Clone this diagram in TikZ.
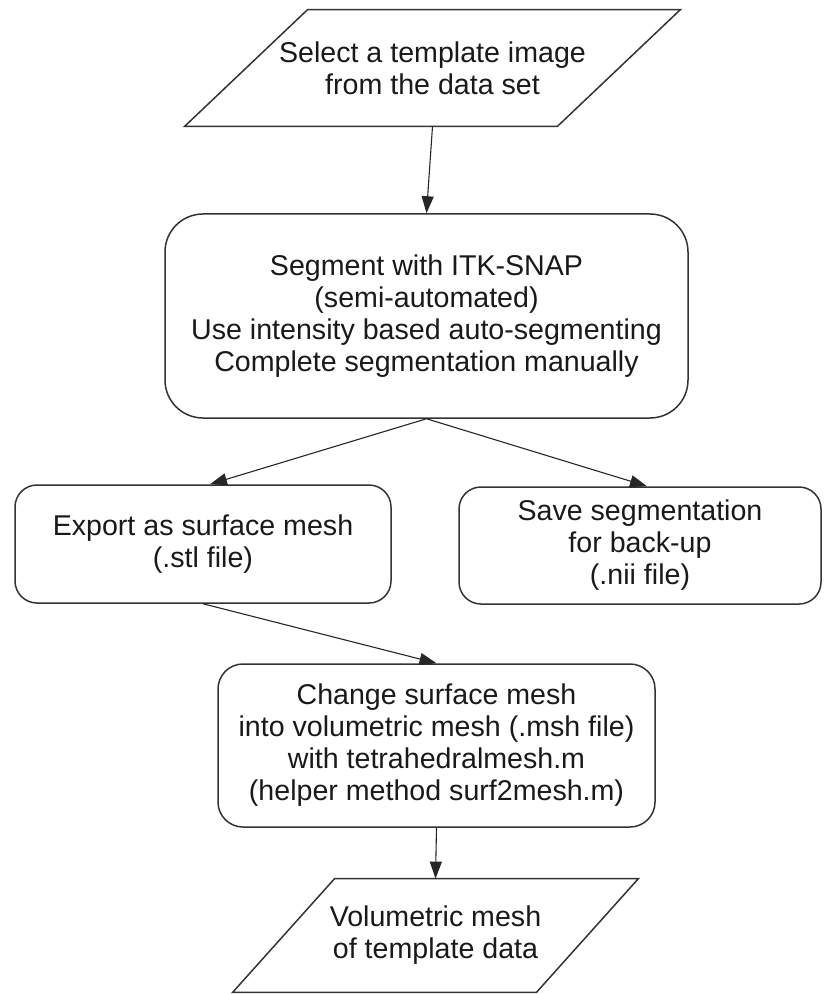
\documentclass[tikz,border=0pt]{standalone}
\usepackage{fontspec}
\setmainfont{Liberation Sans}
\usetikzlibrary{arrows.meta}

\tikzset{
  box/.style={draw=black!80, line width=0.75pt, rounded corners=#1, align=center, inner sep=0pt, text=black!90},
  box/.default=11pt,
  io/.style={align=center, inner sep=0pt, text=black!90},
  outline/.style={draw=black!80, line width=0.75pt},
  flow/.style={draw=black!85, line width=0.55pt, -{Triangle[length=8.5pt,width=6pt]}},
}

\begin{document}
\begin{tikzpicture}[x=0.5pt,y=0.5pt,yscale=-1,xscale=1,font=\fontsize{14.3}{16}\selectfont]
\useasboundingbox (0,0) rectangle (823,994);

% input image
\node [io, minimum width=247.5pt, minimum height=58pt] (select) at (432.5,68) {Select a template image\\from the data set};
\draw [outline] ([xshift=61.5pt]select.north west) -- (select.north east) -- ([xshift=-61.5pt]select.south east) -- (select.south west) -- cycle;

% processing steps
\node [box=19pt, minimum width=261.5pt, minimum height=102pt] (seg) at (426.5,316) {Segment with ITK-SNAP\\(semi-automated)\\Use intensity based auto-segmenting\\Complete segmentation manually};
\node [box, minimum width=188pt, minimum height=59pt] (export) at (203,544) {Export as surface mesh\\(.stl file)};
\node [box, minimum width=181pt, minimum height=58.5pt] (save) at (640,545.5) {Save segmentation\\for back-up\\(.nii file)};
\node [box=12.5pt, minimum width=218.5pt, minimum height=81.5pt] (change) at (436.5,745.5) {Change surface mesh\\into volumetric mesh (.msh file)\\with tetrahedralmesh.m\\(helper method surf2mesh.m)};

% output mesh
\node [io, minimum width=202.5pt, minimum height=56.5pt] (volume) at (435.5,935.5) {Volumetric mesh\\of template data};
\draw [outline] ([xshift=51pt]volume.north west) -- (volume.north east) -- ([xshift=-51pt]volume.south east) -- (volume.south west) -- cycle;

% connectors
\draw [flow] (select.south) -- (seg.north);
\draw [flow] (seg.south) -- ([xshift=3.5pt]export.north);
\draw [flow] (seg.south) -- ([xshift=3.5pt]save.north);
\draw [flow] (export.south) -- (change.north);
\draw [flow] (change.south) -- (volume.north);

\end{tikzpicture}
\end{document}
